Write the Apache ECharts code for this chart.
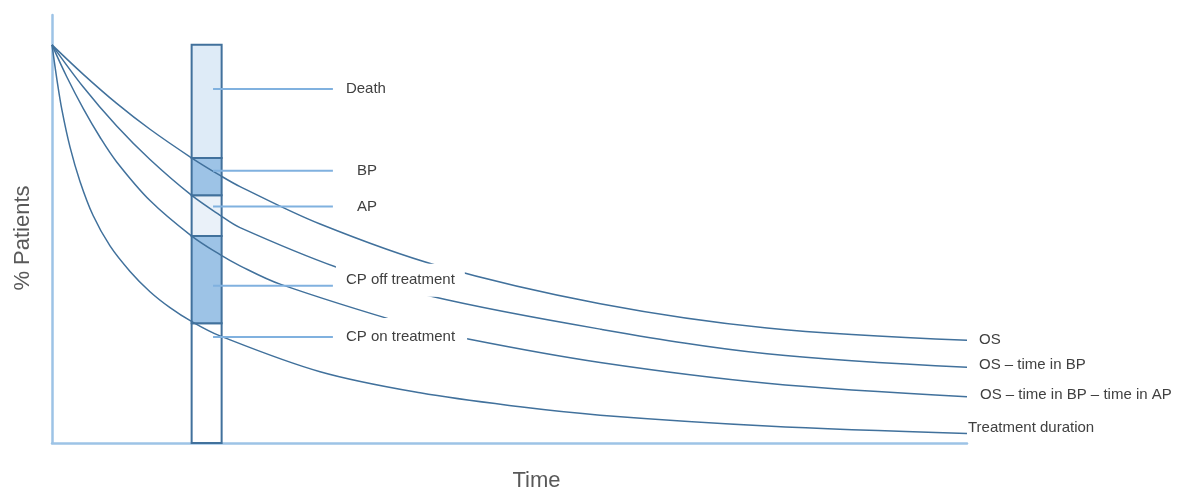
<!DOCTYPE html>
<html>
<head>
<meta charset="utf-8">
<script src="https://cdn.jsdelivr.net/npm/echarts@6/dist/echarts.min.js"></script>
<style>html,body{margin:0;padding:0;background:#fff}#c{width:1190px;height:504px}</style>
</head>
<body>
<div id="c"></div>
<script>
// ---- data (time on a 0-100 scale, % patients 0-100) ----
const curveNames = ['OS', 'OS \u2013 time in BP', 'OS \u2013 time in BP \u2013 time in AP', 'Treatment duration'];
const osPoints = [[0,100],[3.42,92.6],[7.07,85.3],[10.71,78.8],[15.2,71.7],[18.37,67.2],[20.55,64.4],[29.3,55.0],[42.06,44.6],[59.91,35.0],[78.14,28.9],[100,25.8]];
const osBpPoints = [[0,100],[3.42,89.4],[7.07,79.6],[10.71,71.2],[15.2,62.3],[18.37,57.2],[20.55,54.1],[31.27,44.0],[41.33,36.9],[59.91,28.6],[78.14,22.4],[100,19.0]];
const osBpApPoints = [[0,100],[1.61,92.0],[3.42,84.0],[5.25,76.8],[7.07,70.6],[10.71,60.9],[15.2,52.1],[18.37,47.3],[20.55,44.5],[24.93,39.9],[39.14,29.6],[45.48,26.1],[59.91,20.2],[78.14,15.0],[100,11.6]];
const treatmentPoints = [[0,100],[0.55,91.1],[1.09,83.6],[1.97,74.3],[3.06,65.7],[4.48,57.2],[6.34,49.5],[8.53,43.1],[10.71,38.0],[12.9,34.0],[15.2,30.6],[18.37,26.9],[29.3,17.9],[40.23,12.6],[51.16,9.1],[59.91,7.0],[78.14,4.3],[100,2.4]];

const barTime = 16.9;
const barSegments = ['CP on treatment', 'CP off treatment', 'AP', 'BP', 'Death']; // bottom -> top
const barValues = [30.1, 21.9, 10.2, 9.4, 28.4];

const connectorNames = ['Death', 'BP', 'AP', 'CP off treatment', 'CP on treatment'];
const connectorValues = [88.9, 68.4, 59.4, 39.5, 26.6];
const connectorFrom = 17.6;
const connectorTo = 30.7;

const axisTitleX = 'Time';
const axisTitleY = '% Patients';

// ---- chart ----
const chart = echarts.init(document.getElementById('c'), null, {renderer: 'canvas'});
const FONT = '"Liberation Sans", Arial, sans-serif';
const lineColor = '#41719c';
const barFill = {'CP on treatment': '#ffffff', 'CP off treatment': '#9dc3e6', 'AP': '#eaf1f9', 'BP': '#9dc3e6', 'Death': '#deebf7'};

// stacked segments [time, start, end]
const barData = [];
let acc = 0;
barValues.forEach((v, i) => { barData.push({name: barSegments[i], value: [barTime, acc, acc + v]}); acc += v; });

const curveData = [osPoints, osBpPoints, osBpApPoints, treatmentPoints];
const curveLabelStyle = [
  {distance: 12, offset: [0, 0]},
  {distance: 12, offset: [0, -2]},
  {distance: 13, offset: [0, -2]},
  {distance: 1, offset: [0, -6]}
];
const connectorLabelStyle = {
  'Death': {distance: 3, padding: [6, 10, 6, 10], offset: [0, 0]},
  'BP': {distance: 14, padding: [6, 10, 6, 10], offset: [0, 0]},
  'AP': {distance: 14, padding: [6, 10, 6, 10], offset: [0, 0]},
  'CP off treatment': {distance: 3, padding: [14, 10, 3, 10], offset: [0, -5.5]},
  'CP on treatment': {distance: 3, padding: [11, 12, 11, 10], offset: [0, 0]}
};

const series = [];
series.push({
  name: 'states', type: 'custom', z: 1,
  encode: {x: 0, y: [1, 2]},
  data: barData,
  renderItem: function (params, api) {
    const top = api.coord([api.value(0), api.value(2)]);
    const bottom = api.coord([api.value(0), api.value(1)]);
    const w = 30;
    return {
      type: 'rect',
      shape: {x: top[0] - w / 2, y: top[1], width: w, height: bottom[1] - top[1]},
      style: {fill: barFill[barSegments[params.dataIndex]], stroke: lineColor, lineWidth: 2}
    };
  },
  emphasis: {disabled: true}
});
curveNames.forEach((name, i) => {
  series.push({
    name, type: 'line', z: 3, data: curveData[i], showSymbol: false, symbol: 'none',
    smooth: 0.35,
    lineStyle: {color: lineColor, width: 1.5},
    endLabel: {
      show: true, formatter: name, color: '#404040', fontFamily: FONT, fontSize: 15,
      distance: curveLabelStyle[i].distance, offset: curveLabelStyle[i].offset
    },
    emphasis: {disabled: true}
  });
});
connectorNames.forEach((name, i) => {
  const st = connectorLabelStyle[name];
  series.push({
    name: 'conn-' + name, type: 'line', z: 6, symbol: 'none', showSymbol: false,
    data: [[connectorFrom, connectorValues[i]], [connectorTo, connectorValues[i]]],
    lineStyle: {color: '#80b1df', width: 2},
    endLabel: {
      show: true, formatter: name, color: '#404040', fontFamily: FONT, fontSize: 15, lineHeight: 16,
      backgroundColor: '#ffffff', padding: st.padding, distance: st.distance, offset: st.offset
    },
    emphasis: {disabled: true}
  });
});

chart.setOption({
  animation: false,
  backgroundColor: '#ffffff',
  grid: {left: 52, right: 223, top: 15, bottom: 61, containLabel: false},
  xAxis: {
    type: 'value', min: 0, max: 100,
    name: axisTitleX, nameLocation: 'middle', nameGap: 27,
    nameTextStyle: {fontFamily: FONT, fontSize: 22, color: '#595959', padding: [0, 0, 0, 54]},
    axisLine: {show: true, lineStyle: {color: '#9dc3e6', width: 2.5}},
    axisTick: {show: false}, axisLabel: {show: false}, splitLine: {show: false}
  },
  yAxis: {
    type: 'value', min: 0, max: 107.5,
    name: axisTitleY, nameLocation: 'middle', nameGap: 18, nameRotate: 90,
    nameTextStyle: {fontFamily: FONT, fontSize: 22, color: '#595959', padding: [0, 18, 0, 0]},
    axisLine: {show: true, lineStyle: {color: '#9dc3e6', width: 2.5}},
    axisTick: {show: false}, axisLabel: {show: false}, splitLine: {show: false}
  },
  series
});
</script>
</body>
</html>
